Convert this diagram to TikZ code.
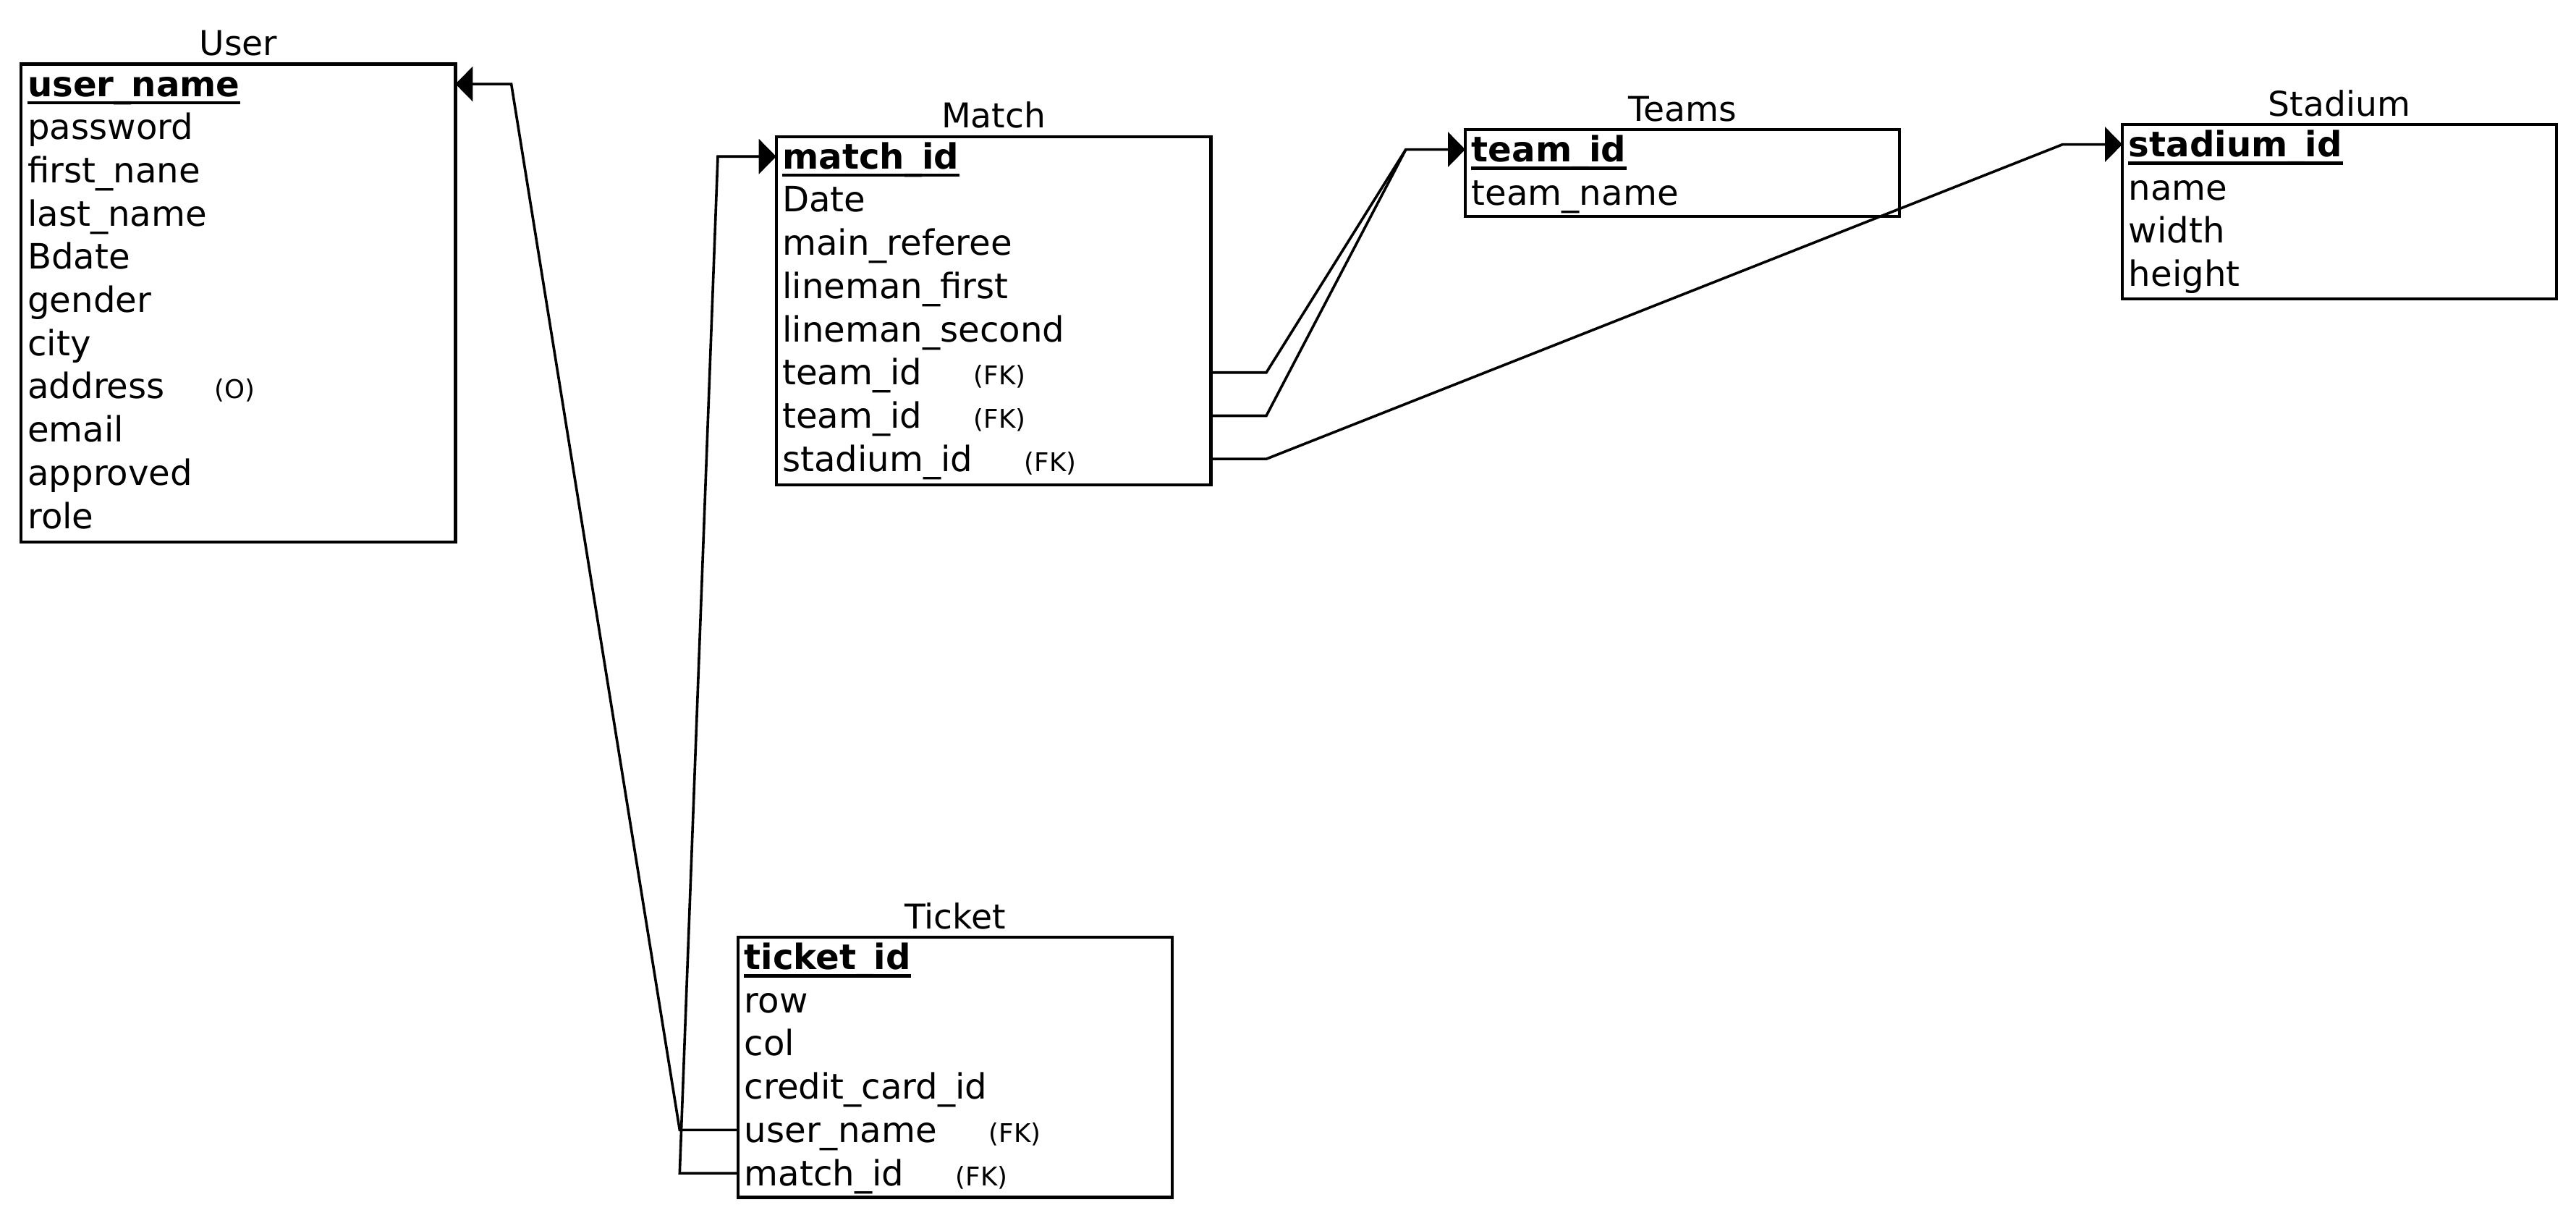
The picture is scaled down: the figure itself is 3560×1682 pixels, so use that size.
\documentclass[tikz,border=0pt]{standalone}
\usepackage{fontspec}
\setmainfont{DejaVu Sans}
\usetikzlibrary{arrows.meta}
\newcommand\rowfont{\fontsize{12.05pt}{14pt}\selectfont}
\newcommand\ttlfont{\fontsize{11.8pt}{14pt}\selectfont}
\newcommand\smfont{\fontsize{8.9pt}{10pt}\selectfont}
\tikzset{
  ent/.style={draw, line width=1.1pt, fill=white, inner sep=0pt, outer sep=0pt, anchor=north west},
  row/.style={anchor=base west, inner sep=0pt, font=\rowfont},
  pkrow/.style={anchor=base west, inner sep=0pt, font=\rowfont\bfseries},
  ttl/.style={anchor=base, inner sep=0pt, font=\ttlfont},
  fk/.style={anchor=base west, inner sep=0pt, font=\smfont},
  pkline/.style={line width=1.1pt},
  conn/.style={line width=0.9pt, line join=miter},
  arr/.style={conn, -{Triangle[length=6pt,width=12pt]}},
}
\begin{document}
\begin{tikzpicture}[x=0.25pt,y=-0.25pt]
\useasboundingbox (0,0) rectangle (3560,1682);

% bend coordinates
\coordinate (j1) at (939.3,0);
\coordinate (k1) at (706.6,0);
\coordinate (k2) at (992,0);
\coordinate (b1) at (1750,0);
\coordinate (k3) at (1942.8,0);
\coordinate (k4) at (2850.5,0);

% ---------- User ----------
\node[ent, minimum width=150.1pt, minimum height=165.1pt] (user) at (29,88.5) {};
\node[ttl] (user-t) at (329.3,76.5) {User};
\node[pkrow] (u-un) at (37.5,133) {user\_name};
\draw[pkline] ([shift={(0,9)}]u-un.base west) -- ([shift={(0,9)}]u-un.base east);
\node[row] (u-pw) at (37.5,192.7) {password};
\node[row] (u-fn) at (37.5,252.4) {first\_nane};
\node[row] (u-ln) at (37.5,312.1) {last\_name};
\node[row] (u-bd) at (37.5,371.8) {Bdate};
\node[row] (u-ge) at (37.5,431.5) {gender};
\node[row] (u-ci) at (37.5,491.2) {city};
\node[row] (u-ad) at (37.5,550.9) {address};
\node[fk] (u-ad-o) at (296,550.9) {(O)};
\node[row] (u-em) at (37.5,610.6) {email};
\node[row] (u-ap) at (37.5,670.3) {approved};
\node[row] (u-ro) at (37.5,730) {role};

% ---------- Match ----------
\node[ent, minimum width=150.2pt, minimum height=120.25pt] (match) at (1072.7,188.7) {};
\node[ttl] (match-t) at (1373.1,176.7) {Match};
\node[pkrow] (m-id) at (1080.5,233.2) {match\_id};
\draw[pkline] ([shift={(0,9)}]m-id.base west) -- ([shift={(0,9)}]m-id.base east);
\node[row] (m-da) at (1080.5,292.9) {Date};
\node[row] (m-mr) at (1080.5,352.6) {main\_referee};
\node[row] (m-lf) at (1080.5,412.3) {lineman\_first};
\node[row] (m-ls) at (1080.5,472) {lineman\_second};
\node[row] (m-t1) at (1080.5,531.7) {team\_id};
\node[fk] (m-t1-fk) at (1345,531.7) {(FK)};
\node[row] (m-t2) at (1080.5,591.4) {team\_id};
\node[fk] (m-t2-fk) at (1345,591.4) {(FK)};
\node[row] (m-st) at (1080.5,651.1) {stadium\_id};
\node[fk] (m-st-fk) at (1415,651.1) {(FK)};

% ---------- Teams ----------
\node[ent, minimum width=150pt, minimum height=30pt] (teams) at (2025,179) {};
\node[ttl] (teams-t) at (2325,167) {Teams};
\node[pkrow] (te-id) at (2033,223.5) {team\_id};
\draw[pkline] ([shift={(0,9)}]te-id.base west) -- ([shift={(0,9)}]te-id.base east);
\node[row] (te-nm) at (2033,283.2) {team\_name};

% ---------- Stadium ----------
\node[ent, minimum width=150pt, minimum height=60.3pt] (stadium) at (2933,172) {};
\node[ttl] (stadium-t) at (3233,160) {Stadium};
\node[pkrow] (s-id) at (2941,216.5) {stadium\_id};
\draw[pkline] ([shift={(0,9)}]s-id.base west) -- ([shift={(0,9)}]s-id.base east);
\node[row] (s-nm) at (2941,276.2) {name};
\node[row] (s-wd) at (2941,335.9) {width};
\node[row] (s-ht) at (2941,395.6) {height};

% ---------- Ticket ----------
\node[ent, minimum width=150pt, minimum height=89.9pt] (ticket) at (1020,1295) {};
\node[ttl] (ticket-t) at (1320,1283) {Ticket};
\node[pkrow] (tk-id) at (1028,1339.5) {ticket\_id};
\draw[pkline] ([shift={(0,9)}]tk-id.base west) -- ([shift={(0,9)}]tk-id.base east);
\node[row] (tk-rw) at (1028,1399.2) {row};
\node[row] (tk-cl) at (1028,1458.9) {col};
\node[row] (tk-cc) at (1028,1518.6) {credit\_card\_id};
\node[row] (tk-un) at (1028,1578.3) {user\_name};
\node[fk] (tk-un-fk) at (1366,1578.3) {(FK)};
\node[row] (tk-mi) at (1028,1638) {match\_id};
\node[fk] (tk-mi-fk) at (1320,1638) {(FK)};

% ---------- connector attach levels ----------
\coordinate (a-uun) at ([shift={(0,-6)}]u-un.mid);
\coordinate (a-mid) at ([shift={(0,-6)}]m-id.mid);
\coordinate (a-mt1) at ([shift={(0,-6)}]m-t1.mid);
\coordinate (a-mt2) at ([shift={(0,-6)}]m-t2.mid);
\coordinate (a-mst) at ([shift={(0,-6)}]m-st.mid);
\coordinate (a-tid) at ([shift={(0,-6)}]te-id.mid);
\coordinate (a-sid) at ([shift={(0,-6)}]s-id.mid);
\coordinate (a-kun) at ([shift={(0,-6)}]tk-un.mid);
\coordinate (a-kmi) at ([shift={(0,-6)}]tk-mi.mid);

% ---------- Connectors ----------
\draw[arr] (ticket.west |- a-kun) -- (j1 |- a-kun) -- (k1 |- a-uun) -- (user.east |- a-uun);
\draw[arr] (ticket.west |- a-kmi) -- (j1 |- a-kmi) -- (k2 |- a-mid) -- (match.west |- a-mid);
\draw[arr] (match.east |- a-mt1) -- (b1 |- a-mt1) -- (k3 |- a-tid) -- (teams.west |- a-tid);
\draw[conn] (match.east |- a-mt2) -- (b1 |- a-mt2) -- (k3 |- a-tid);
\draw[arr] (match.east |- a-mst) -- (b1 |- a-mst) -- (k4 |- a-sid) -- (stadium.west |- a-sid);
\end{tikzpicture}
\end{document}
